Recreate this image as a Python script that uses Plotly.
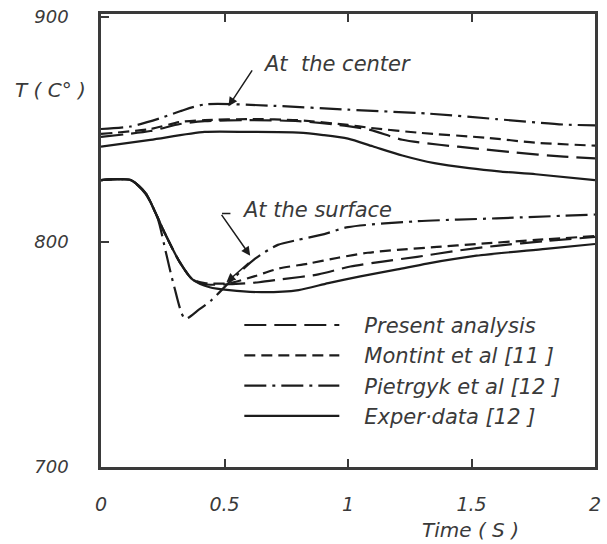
import plotly.graph_objects as go

# ---------------- data ----------------
# Centre-of-billet curves
present_center_t = [0, 0.2, 0.32, 0.42, 0.6, 0.8, 1.0, 1.09, 1.22, 1.37, 1.52, 1.68, 1.86, 2.0]
present_center_T = [846.7, 849.3, 852.4, 853.7, 854.1, 853.7, 851.5, 849.8, 845.4, 843.2, 841.5, 839.7, 838.0, 837.1]

montint_center_t = [0, 0.2, 0.32, 0.42, 0.6, 0.8, 1.0, 1.09, 1.29, 1.56, 1.76, 2.0]
montint_center_T = [848.0, 850.2, 853.3, 854.1, 854.6, 854.1, 852.0, 850.7, 848.5, 846.3, 844.1, 842.8]

pietrgyk_center_t = [0, 0.12, 0.24, 0.32, 0.42, 0.7, 1.0, 1.33, 1.6, 1.87, 2.0]
pietrgyk_center_T = [850.2, 851.3, 855.0, 858.1, 861.1, 860.5, 858.8, 857.0, 854.6, 852.2, 851.8]

exper_center_t = [0, 0.2, 0.42, 0.6, 0.8, 0.9, 1.0, 1.1, 1.22, 1.35, 1.49, 1.62, 1.76, 2.0]
exper_center_T = [842.4, 845.4, 848.9, 848.9, 848.6, 847.5, 845.9, 842.5, 838.4, 835.0, 832.8, 831.3, 830.1, 827.5]

# Surface curves
present_surface_t = [0, 0.12, 0.18, 0.22, 0.26, 0.32, 0.37, 0.42, 0.52, 0.64, 0.73, 0.88, 1.01, 1.14, 1.28, 1.44, 1.6, 1.8, 2.0]
present_surface_T = [827.5, 827.5, 821.8, 813.1, 803.5, 790.8, 783.4, 781.2, 781.2, 782.1, 783.4, 785.6, 789.1, 791.3, 793.4, 796.1, 798.3, 800.4, 802.2]

montint_surface_t = [0, 0.12, 0.18, 0.22, 0.26, 0.32, 0.37, 0.42, 0.52, 0.62, 0.72, 0.84, 0.96, 1.08, 1.2, 1.36, 1.52, 1.76, 2.0]
montint_surface_T = [827.5, 827.5, 821.8, 813.1, 803.5, 790.8, 783.4, 781.7, 781.7, 784.7, 788.2, 790.4, 793.0, 795.2, 796.5, 797.8, 799.1, 800.9, 802.6]

pietrgyk_surface_t = [0, 0.12, 0.18, 0.228, 0.264, 0.296, 0.34, 0.396, 0.448, 0.516, 0.624, 0.716, 0.796, 0.904, 1.0, 1.28, 1.6, 2.0]
pietrgyk_surface_T = [827.5, 827.5, 821.4, 811.0, 794.8, 780.3, 765.9, 769.9, 774.2, 781.7, 792.6, 798.7, 800.9, 803.5, 806.6, 809.2, 810.5, 812.2]

exper_surface_t = [0, 0.12, 0.18, 0.22, 0.26, 0.32, 0.37, 0.44, 0.52, 0.65, 0.8, 0.92, 1.05, 1.2, 1.32, 1.52, 1.8, 2.0]
exper_surface_T = [827.5, 827.5, 821.8, 813.1, 803.5, 790.8, 783.4, 779.9, 778.6, 777.7, 778.6, 781.7, 784.7, 787.8, 790.4, 793.9, 796.9, 799.1]

series_names = ["Present analysis", "Montint et al [11 ]", "Pietrgyk et al [12 ]", "Exper·data [12 ]"]
series_dash = ["22px,8px", "11px,6px", "22px,6px,3px,6px", "solid"]

x_ticks = [0, 0.5, 1, 1.5, 2]
x_tick_text = ["0", "0.5", "1", "1.5", "2"]
y_ticks = [700, 800, 900]
y_tick_text = ["700", "800", "900"]

# ---------------- figure ----------------
INK = "#1c1c1c"
TXT = "#3a3a3a"
FONT = "DejaVu Sans"

curves = [
    (present_center_t, present_center_T, present_surface_t, present_surface_T),
    (montint_center_t, montint_center_T, montint_surface_t, montint_surface_T),
    (pietrgyk_center_t, pietrgyk_center_T, pietrgyk_surface_t, pietrgyk_surface_T),
    (exper_center_t, exper_center_T, exper_surface_t, exper_surface_T),
]

fig = go.Figure()
for name, dash, (ct, cT, st, sT) in zip(series_names, series_dash, curves):
    fig.add_trace(go.Scatter(
        x=ct + [None] + st, y=cT + [None] + sT,
        mode="lines", name="   " + name,
        line=dict(color=INK, width=2.2, dash=dash, shape="spline", smoothing=0.7),
        connectgaps=False,
    ))

ann_font = dict(family=FONT, size=21, color=TXT, style="italic")
annotations = [
    dict(text="At  the center", x=0.648, y=879.0, xref="x", yref="y",
         xanchor="left", yanchor="middle", showarrow=False, font=ann_font),
    dict(text="", x=0.516, y=860.3, ax=0.616, ay=876.9, xref="x", yref="y",
         axref="x", ayref="y", showarrow=True, arrowhead=2, arrowsize=1.2,
         arrowwidth=1.5, arrowcolor=INK),
    dict(text="At the surface", x=0.564, y=814.4, xref="x", yref="y",
         xanchor="left", yanchor="middle", showarrow=False, font=ann_font),
    dict(text="", x=0.524, y=812.7, ax=0.484, ay=812.7, xref="x", yref="y",
         axref="x", ayref="y", showarrow=True, arrowhead=0,
         arrowwidth=1.5, arrowcolor=INK),
    dict(text="", x=0.604, y=793.9, ax=0.484, ay=812.7, xref="x", yref="y",
         axref="x", ayref="y", showarrow=True, arrowhead=2, arrowsize=1.2,
         arrowwidth=1.5, arrowcolor=INK),
    dict(text="", x=0.508, y=782.1, ax=0.604, ay=791.3, xref="x", yref="y",
         axref="x", ayref="y", showarrow=True, arrowhead=2, arrowsize=1.2,
         arrowwidth=1.5, arrowcolor=INK),
    dict(text="T ( C° )", x=-0.102, y=0.833, xref="paper", yref="paper",
         xanchor="center", yanchor="middle", showarrow=False,
         font=dict(family=FONT, size=20, color=TXT, style="italic")),
    dict(text="Time ( S )", x=0.748, y=-0.140, xref="paper", yref="paper",
         xanchor="center", yanchor="middle", showarrow=False,
         font=dict(family=FONT, size=20, color=TXT, style="italic")),
]

fig.update_layout(
    width=607, height=544,
    margin=dict(l=101, r=6, t=6, b=77),
    paper_bgcolor="white", plot_bgcolor="white",
    font=dict(family=FONT, size=19, color=TXT, style="italic"),
    showlegend=True,
    legend=dict(x=0.28, y=0.358, xanchor="left", yanchor="top",
                bgcolor="rgba(0,0,0,0)", borderwidth=0, itemwidth=95,
                font=dict(family=FONT, size=21, color=TXT, style="italic"),
                tracegroupgap=4),
    annotations=annotations,
)
fig.update_xaxes(
    range=[0, 2], tickvals=x_ticks, ticktext=x_tick_text,
    showgrid=False, zeroline=False,
    showline=True, linecolor=TXT, linewidth=2.5, mirror="ticks",
    ticks="inside", ticklen=8, tickwidth=2, tickcolor=TXT,
    ticklabelstandoff=18,
    tickfont=dict(family=FONT, size=19, color=TXT, style="italic"),
)
fig.update_yaxes(
    range=[700, 901.3], tickvals=y_ticks, ticktext=y_tick_text,
    showgrid=False, zeroline=False,
    showline=True, linecolor=TXT, linewidth=2.5, mirror=True,
    ticks="inside", ticklen=8, tickwidth=2, tickcolor=TXT,
    ticklabelstandoff=26,
    tickfont=dict(family=FONT, size=18, color=TXT, style="italic"),
)

fig.write_html("out.html")
